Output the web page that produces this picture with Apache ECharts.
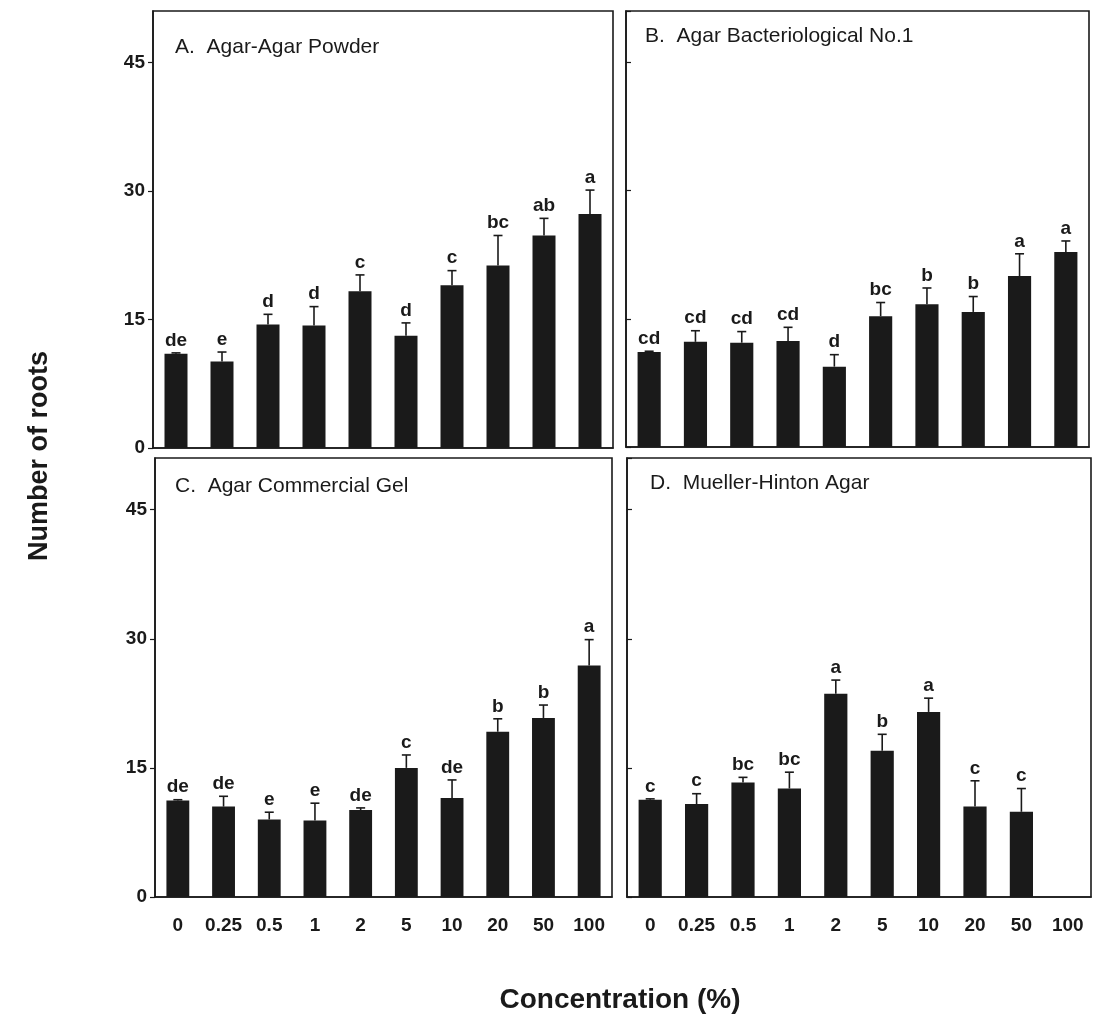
<!DOCTYPE html>
<html>
<head>
<meta charset="utf-8">
<script src="https://cdn.jsdelivr.net/npm/echarts@6/dist/echarts.min.js"></script>
<style>html,body{margin:0;padding:0;background:#fff;}#chart{width:1100px;height:1034px;}</style>
</head>
<body>
<div id="chart"></div>
<script>
var categories = ['0', '0.25', '0.5', '1', '2', '5', '10', '20', '50', '100'];
var yTicks = [0, 15, 30, 45];

var titleA = 'A.  Agar-Agar Powder';
var meansA = [11.0, 10.1, 14.4, 14.3, 18.3, 13.1, 19.0, 21.3, 24.8, 27.3];
var errsA = [0.1, 1.1, 1.2, 2.2, 1.9, 1.5, 1.7, 3.5, 2.0, 2.8];
var lettersA = ['de', 'e', 'd', 'd', 'c', 'd', 'c', 'bc', 'ab', 'a'];

var titleB = 'B.  Agar Bacteriological No.1';
var meansB = [11.1, 12.3, 12.2, 12.4, 9.4, 15.3, 16.7, 15.8, 20.0, 22.8];
var errsB = [0.1, 1.3, 1.3, 1.6, 1.4, 1.6, 1.9, 1.8, 2.6, 1.3];
var lettersB = ['cd', 'cd', 'cd', 'cd', 'd', 'bc', 'b', 'b', 'a', 'a'];

var titleC = 'C.  Agar Commercial Gel';
var meansC = [11.2, 10.5, 9.0, 8.9, 10.1, 15.0, 11.5, 19.2, 20.8, 26.9];
var errsC = [0.1, 1.2, 0.85, 2.0, 0.25, 1.5, 2.1, 1.5, 1.5, 3.0];
var lettersC = ['de', 'de', 'e', 'e', 'de', 'c', 'de', 'b', 'b', 'a'];

var titleD = 'D.  Mueller-Hinton Agar';
var meansD = [11.3, 10.8, 13.3, 12.6, 23.6, 17.0, 21.5, 10.5, 9.9, null];
var errsD = [0.1, 1.2, 0.6, 1.9, 1.6, 1.9, 1.6, 3.0, 2.7, null];
var lettersD = ['c', 'c', 'bc', 'bc', 'a', 'b', 'a', 'c', 'c', ''];

var yTitle = 'Number of roots';
var xTitle = 'Concentration (%)';

var FONT = '"Liberation Sans", Arial, sans-serif';
var INK = '#1a1a1a';

var chart = echarts.init(document.getElementById('chart'), null, {renderer: 'canvas'});

var panels = [
  {title: titleA, means: meansA, errs: errsA, letters: lettersA, grid: {left: 153, top: 11, width: 460, height: 437}, yLabels: true, xLabels: false, tl: [170, 32]},
  {title: titleB, means: meansB, errs: errsB, letters: lettersB, grid: {left: 626, top: 11, width: 463, height: 436}, yLabels: false, xLabels: false, tl: [640, 21]},
  {title: titleC, means: meansC, errs: errsC, letters: lettersC, grid: {left: 155, top: 458, width: 457, height: 439}, yLabels: true, xLabels: true, tl: [170, 471]},
  {title: titleD, means: meansD, errs: errsD, letters: lettersD, grid: {left: 627, top: 458, width: 464, height: 439}, yLabels: false, xLabels: true, tl: [645, 468]}
];

function makeErr(means, errs, letters) {
  return function (params, api) {
    var i = params.dataIndex;
    if (means[i] == null) return null;
    var base = api.coord([i, means[i]]);
    var top = api.coord([i, means[i] + errs[i]]);
    var cap = 4.5;
    return {
      type: 'group',
      children: [
        {type: 'line', shape: {x1: base[0], y1: base[1], x2: top[0], y2: top[1]}, style: {stroke: INK, lineWidth: 1.6}},
        {type: 'line', shape: {x1: top[0] - cap, y1: top[1], x2: top[0] + cap, y2: top[1]}, style: {stroke: INK, lineWidth: 1.6}},
        {type: 'text', x: top[0], y: top[1] - 3, style: {text: letters[i], textAlign: 'center', textVerticalAlign: 'bottom', font: 'bold 19px ' + FONT, fill: INK}}
      ]
    };
  };
}

var grids = [], xAxes = [], yAxes = [], series = [], titles = [];
panels.forEach(function (p, k) {
  grids.push(Object.assign({show: true, borderColor: INK, borderWidth: 1.6, backgroundColor: 'transparent'}, p.grid));
  xAxes.push({
    type: 'category', gridIndex: k, data: categories,
    axisLine: {show: true, lineStyle: {color: INK, width: 1.6}},
    axisTick: {show: false},
    axisLabel: {show: p.xLabels, color: INK, fontFamily: FONT, fontWeight: 'bold', fontSize: 19, margin: 19, interval: 0},
    splitLine: {show: false}
  });
  yAxes.push({
    type: 'value', gridIndex: k, min: yTicks[0], max: 51, interval: yTicks[1] - yTicks[0],
    axisLine: {show: true, lineStyle: {color: INK, width: 1.6}},
    axisTick: {show: true, inside: !p.yLabels, length: 5, lineStyle: {color: INK, width: 1.2}},
    axisLabel: {show: p.yLabels, showMaxLabel: false, color: INK, fontFamily: FONT, fontWeight: 'bold', fontSize: 19, margin: 8,
      formatter: function (v) { return yTicks.indexOf(v) >= 0 ? String(v) : ''; }},
    splitLine: {show: false}
  });
  series.push({
    type: 'bar', xAxisIndex: k, yAxisIndex: k, data: p.means, barWidth: '50%',
    itemStyle: {color: INK}, silent: true, animation: false
  });
  series.push({
    type: 'custom', xAxisIndex: k, yAxisIndex: k, clip: false, animation: false, silent: true,
    data: p.means.map(function (m, i) { return [i, m == null ? null : m + p.errs[i]]; }),
    encode: {x: 0, y: 1},
    renderItem: makeErr(p.means, p.errs, p.letters),
    z: 5
  });
  titles.push({
    text: p.title, left: p.tl[0], top: p.tl[1],
    textStyle: {fontFamily: FONT, fontWeight: 'normal', fontSize: 21, color: INK}
  });
});

chart.setOption({
  backgroundColor: '#fff',
  animation: false,
  title: titles,
  grid: grids,
  xAxis: xAxes,
  yAxis: yAxes,
  series: series,
  graphic: [
    {type: 'text', x: 40, y: 456, rotation: Math.PI / 2,
      style: {text: yTitle, font: 'bold 27px ' + FONT, fill: INK, textAlign: 'center', textVerticalAlign: 'middle'}},
    {type: 'text', x: 620, y: 1000,
      style: {text: xTitle, font: 'bold 28px ' + FONT, fill: INK, textAlign: 'center', textVerticalAlign: 'middle'}}
  ]
});
</script>
</body>
</html>
